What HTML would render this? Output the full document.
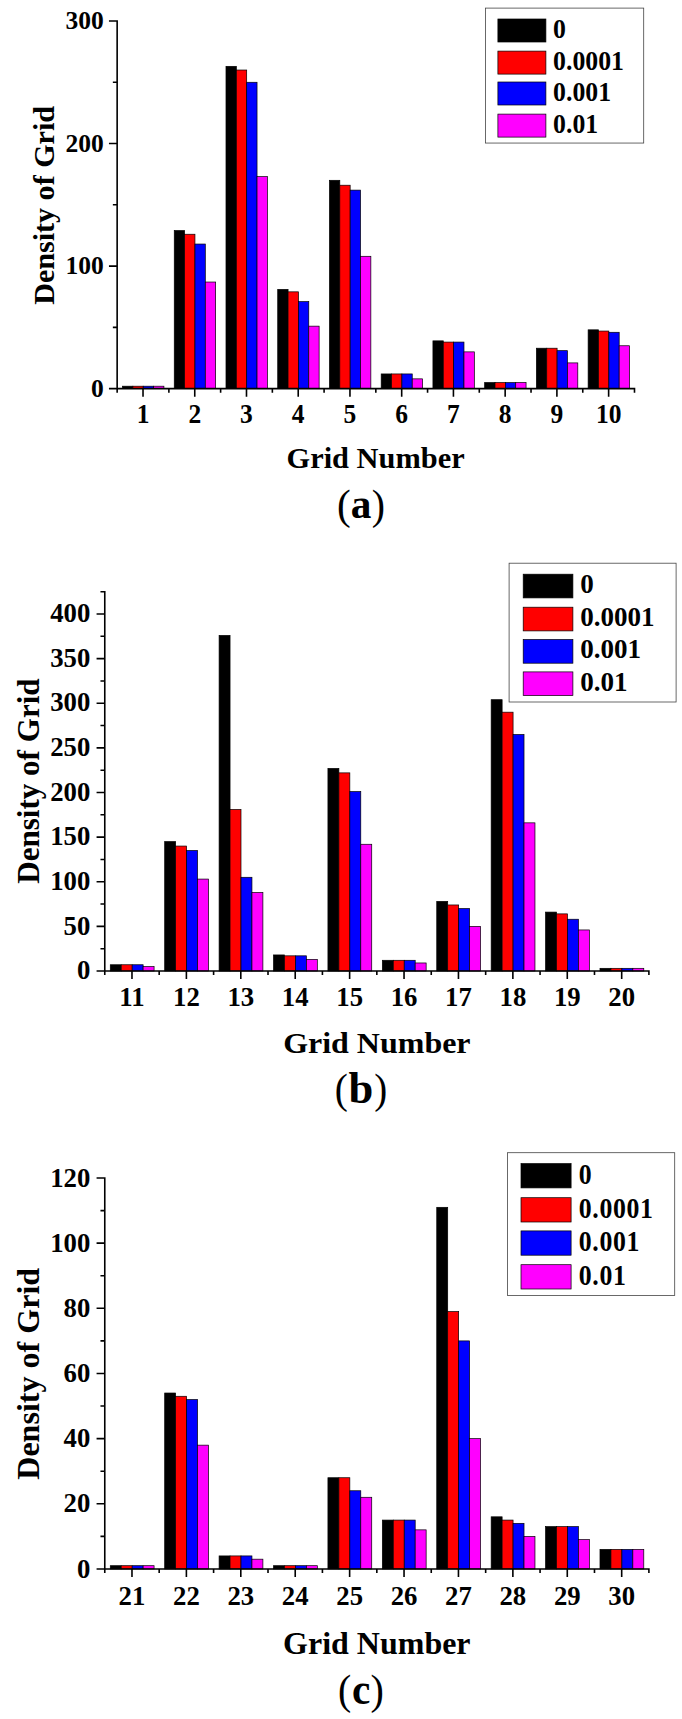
<!DOCTYPE html>
<html lang="en"><head><meta charset="utf-8"><title>Density of Grid</title>
<style>html,body{margin:0;padding:0;background:#fff}svg{display:block}text{font-family:"Liberation Serif", serif;fill:#000}.b{font-weight:bold}</style></head><body>
<svg width="682" height="1719" viewBox="0 0 682 1719">
<rect width="682" height="1719" fill="#fff"/>
<g id="chart-a">
<g stroke="#000" stroke-width="0.7">
<rect x="122.52" y="386.2" width="10.35" height="2.45" fill="#000000"/>
<rect x="132.87" y="386.2" width="10.35" height="2.45" fill="#ff0000"/>
<rect x="143.22" y="386.2" width="10.35" height="2.45" fill="#0000ff"/>
<rect x="153.57" y="386.2" width="10.35" height="2.45" fill="#ff00ff"/>
<rect x="174.25" y="230.56" width="10.35" height="158.09" fill="#000000"/>
<rect x="184.6" y="234.24" width="10.35" height="154.41" fill="#ff0000"/>
<rect x="194.95" y="244.04" width="10.35" height="144.61" fill="#0000ff"/>
<rect x="205.3" y="282.03" width="10.35" height="106.62" fill="#ff00ff"/>
<rect x="225.99" y="66.34" width="10.35" height="322.31" fill="#000000"/>
<rect x="236.34" y="70.02" width="10.35" height="318.63" fill="#ff0000"/>
<rect x="246.69" y="82.27" width="10.35" height="306.38" fill="#0000ff"/>
<rect x="257.04" y="176.64" width="10.35" height="212.01" fill="#ff00ff"/>
<rect x="277.72" y="289.38" width="10.35" height="99.27" fill="#000000"/>
<rect x="288.07" y="291.84" width="10.35" height="96.81" fill="#ff0000"/>
<rect x="298.42" y="301.64" width="10.35" height="87.01" fill="#0000ff"/>
<rect x="308.77" y="326.15" width="10.35" height="62.5" fill="#ff00ff"/>
<rect x="329.46" y="180.31" width="10.35" height="208.34" fill="#000000"/>
<rect x="339.81" y="185.22" width="10.35" height="203.43" fill="#ff0000"/>
<rect x="350.16" y="190.12" width="10.35" height="198.53" fill="#0000ff"/>
<rect x="360.51" y="256.3" width="10.35" height="132.35" fill="#ff00ff"/>
<rect x="381.19" y="373.94" width="10.35" height="14.71" fill="#000000"/>
<rect x="391.54" y="373.94" width="10.35" height="14.71" fill="#ff0000"/>
<rect x="401.89" y="373.94" width="10.35" height="14.71" fill="#0000ff"/>
<rect x="412.24" y="378.85" width="10.35" height="9.8" fill="#ff00ff"/>
<rect x="432.93" y="340.86" width="10.35" height="47.79" fill="#000000"/>
<rect x="443.28" y="342.08" width="10.35" height="46.57" fill="#ff0000"/>
<rect x="453.63" y="342.08" width="10.35" height="46.57" fill="#0000ff"/>
<rect x="463.98" y="351.88" width="10.35" height="36.77" fill="#ff00ff"/>
<rect x="484.66" y="382.52" width="10.35" height="6.13" fill="#000000"/>
<rect x="495.01" y="382.52" width="10.35" height="6.13" fill="#ff0000"/>
<rect x="505.36" y="382.52" width="10.35" height="6.13" fill="#0000ff"/>
<rect x="515.71" y="382.52" width="10.35" height="6.13" fill="#ff00ff"/>
<rect x="536.4" y="348.21" width="10.35" height="40.44" fill="#000000"/>
<rect x="546.75" y="348.21" width="10.35" height="40.44" fill="#ff0000"/>
<rect x="557.1" y="350.66" width="10.35" height="37.99" fill="#0000ff"/>
<rect x="567.45" y="362.91" width="10.35" height="25.74" fill="#ff00ff"/>
<rect x="588.13" y="329.83" width="10.35" height="58.82" fill="#000000"/>
<rect x="598.48" y="331.05" width="10.35" height="57.6" fill="#ff0000"/>
<rect x="608.83" y="332.28" width="10.35" height="56.37" fill="#0000ff"/>
<rect x="619.18" y="345.76" width="10.35" height="42.89" fill="#ff00ff"/>
</g>
<path d="M117.15 20.2 V389.45 M116.35 388.65 H635.3 M108.95 388.65 H117.15 M108.95 266.1 H117.15 M108.95 143.55 H117.15 M108.95 21 H117.15 M112.85 327.38 H117.15 M112.85 204.82 H117.15 M112.85 82.27 H117.15 M143.02 388.65 V396.65 M194.75 388.65 V396.65 M246.49 388.65 V396.65 M298.22 388.65 V396.65 M349.96 388.65 V396.65 M401.69 388.65 V396.65 M453.43 388.65 V396.65 M505.16 388.65 V396.65 M556.9 388.65 V396.65 M608.63 388.65 V396.65 M117.15 388.65 V392.75 M168.88 388.65 V392.75 M220.62 388.65 V392.75 M272.36 388.65 V392.75 M324.09 388.65 V392.75 M375.83 388.65 V392.75 M427.56 388.65 V392.75 M479.29 388.65 V392.75 M531.03 388.65 V392.75 M582.76 388.65 V392.75 M634.5 388.65 V392.75" stroke="#000" stroke-width="1.6" fill="none"/>
<text transform="translate(103.82 397) scale(1.0000 1.0000)" font-size="25.5" text-anchor="end" class="b">0</text>
<text transform="translate(103.82 274.45) scale(1.0000 1.0000)" font-size="25.5" text-anchor="end" class="b">100</text>
<text transform="translate(103.82 151.9) scale(1.0000 1.0000)" font-size="25.5" text-anchor="end" class="b">200</text>
<text transform="translate(103.82 29.35) scale(1.0000 1.0000)" font-size="25.5" text-anchor="end" class="b">300</text>
<text transform="translate(143.02 422.6) scale(1.0000 1.0350)" font-size="25.5" text-anchor="middle" class="b">1</text>
<text transform="translate(194.75 422.6) scale(1.0000 1.0350)" font-size="25.5" text-anchor="middle" class="b">2</text>
<text transform="translate(246.49 422.6) scale(1.0000 1.0350)" font-size="25.5" text-anchor="middle" class="b">3</text>
<text transform="translate(298.22 422.6) scale(1.0000 1.0350)" font-size="25.5" text-anchor="middle" class="b">4</text>
<text transform="translate(349.96 422.6) scale(1.0000 1.0350)" font-size="25.5" text-anchor="middle" class="b">5</text>
<text transform="translate(401.69 422.6) scale(1.0000 1.0350)" font-size="25.5" text-anchor="middle" class="b">6</text>
<text transform="translate(453.43 422.6) scale(1.0000 1.0350)" font-size="25.5" text-anchor="middle" class="b">7</text>
<text transform="translate(505.16 422.6) scale(1.0000 1.0350)" font-size="25.5" text-anchor="middle" class="b">8</text>
<text transform="translate(556.9 422.6) scale(1.0000 1.0350)" font-size="25.5" text-anchor="middle" class="b">9</text>
<text transform="translate(608.63 422.6) scale(1.0000 1.0350)" font-size="25.5" text-anchor="middle" class="b">10</text>
<text transform="translate(375.6 468.2) scale(1.0130 1.0000)" font-size="30" text-anchor="middle" class="b">Grid Number</text>
<text transform="translate(53.95 205.4) rotate(-90) scale(1.0030 1.0000)" font-size="30" text-anchor="middle" class="b">Density of Grid</text>
<rect x="485.5" y="8.1" width="158.2" height="134.95" fill="#fff" stroke="#444" stroke-width="0.8"/>
<rect x="497.9" y="19" width="48" height="23" fill="#000000" stroke="#000" stroke-width="0.7"/>
<text transform="translate(553.07 37.5) scale(1.0000 1.0350)" font-size="25.8" text-anchor="start" class="b">0</text>
<rect x="497.9" y="51.1" width="48" height="23" fill="#ff0000" stroke="#000" stroke-width="0.7"/>
<text transform="translate(553.07 69.6) scale(1.0000 1.0350)" font-size="25.8" text-anchor="start" class="b">0.0001</text>
<rect x="497.9" y="82" width="48" height="23" fill="#0000ff" stroke="#000" stroke-width="0.7"/>
<text transform="translate(553.07 100.5) scale(1.0000 1.0350)" font-size="25.8" text-anchor="start" class="b">0.001</text>
<rect x="497.9" y="114.1" width="48" height="23" fill="#ff00ff" stroke="#000" stroke-width="0.7"/>
<text transform="translate(553.07 132.6) scale(1.0000 1.0350)" font-size="25.8" text-anchor="start" class="b">0.01</text>
<text transform="translate(336.89 518.66) scale(0.9824 1.0057)" font-size="42">(</text>
<text transform="translate(350.87 518.08) scale(0.9835 1.0240)" font-size="42" class="b">a</text>
<text transform="translate(371.72 518.66) scale(0.9453 1.0057)" font-size="42">)</text>
</g>
<g id="chart-b">
<g stroke="#000" stroke-width="0.7">
<rect x="110.28" y="964.75" width="10.95" height="6.25" fill="#000000"/>
<rect x="121.23" y="964.75" width="10.95" height="6.25" fill="#ff0000"/>
<rect x="132.18" y="964.75" width="10.95" height="6.25" fill="#0000ff"/>
<rect x="143.13" y="966.54" width="10.95" height="4.46" fill="#ff00ff"/>
<rect x="164.69" y="841.59" width="10.95" height="129.41" fill="#000000"/>
<rect x="175.64" y="846.05" width="10.95" height="124.95" fill="#ff0000"/>
<rect x="186.59" y="850.52" width="10.95" height="120.48" fill="#0000ff"/>
<rect x="197.54" y="879.08" width="10.95" height="91.92" fill="#ff00ff"/>
<rect x="219.1" y="635.43" width="10.95" height="335.57" fill="#000000"/>
<rect x="230.05" y="809.46" width="10.95" height="161.54" fill="#ff0000"/>
<rect x="241" y="877.29" width="10.95" height="93.71" fill="#0000ff"/>
<rect x="251.95" y="892.46" width="10.95" height="78.54" fill="#ff00ff"/>
<rect x="273.52" y="954.94" width="10.95" height="16.06" fill="#000000"/>
<rect x="284.47" y="955.83" width="10.95" height="15.17" fill="#ff0000"/>
<rect x="295.42" y="955.83" width="10.95" height="15.17" fill="#0000ff"/>
<rect x="306.37" y="959.4" width="10.95" height="11.6" fill="#ff00ff"/>
<rect x="327.93" y="768.41" width="10.95" height="202.59" fill="#000000"/>
<rect x="338.88" y="772.87" width="10.95" height="198.13" fill="#ff0000"/>
<rect x="349.83" y="791.61" width="10.95" height="179.39" fill="#0000ff"/>
<rect x="360.78" y="844.27" width="10.95" height="126.73" fill="#ff00ff"/>
<rect x="382.34" y="960.29" width="10.95" height="10.71" fill="#000000"/>
<rect x="393.29" y="960.29" width="10.95" height="10.71" fill="#ff0000"/>
<rect x="404.24" y="960.29" width="10.95" height="10.71" fill="#0000ff"/>
<rect x="415.19" y="962.97" width="10.95" height="8.03" fill="#ff00ff"/>
<rect x="436.75" y="901.39" width="10.95" height="69.61" fill="#000000"/>
<rect x="447.7" y="904.96" width="10.95" height="66.04" fill="#ff0000"/>
<rect x="458.65" y="908.53" width="10.95" height="62.47" fill="#0000ff"/>
<rect x="469.6" y="926.38" width="10.95" height="44.62" fill="#ff00ff"/>
<rect x="491.17" y="699.69" width="10.95" height="271.31" fill="#000000"/>
<rect x="502.12" y="712.18" width="10.95" height="258.82" fill="#ff0000"/>
<rect x="513.07" y="734.5" width="10.95" height="236.5" fill="#0000ff"/>
<rect x="524.02" y="822.85" width="10.95" height="148.15" fill="#ff00ff"/>
<rect x="545.58" y="912.1" width="10.95" height="58.9" fill="#000000"/>
<rect x="556.53" y="913.88" width="10.95" height="57.12" fill="#ff0000"/>
<rect x="567.48" y="919.24" width="10.95" height="51.76" fill="#0000ff"/>
<rect x="578.43" y="929.95" width="10.95" height="41.05" fill="#ff00ff"/>
<rect x="599.99" y="968.32" width="10.95" height="2.68" fill="#000000"/>
<rect x="610.94" y="968.32" width="10.95" height="2.68" fill="#ff0000"/>
<rect x="621.89" y="968.32" width="10.95" height="2.68" fill="#0000ff"/>
<rect x="632.84" y="968.32" width="10.95" height="2.68" fill="#ff00ff"/>
</g>
<path d="M104.77 590.9 V971.8 M103.97 971 H649.7 M96.57 971 H104.77 M96.57 926.38 H104.77 M96.57 881.75 H104.77 M96.57 837.13 H104.77 M96.57 792.51 H104.77 M96.57 747.88 H104.77 M96.57 703.26 H104.77 M96.57 658.64 H104.77 M96.57 614.01 H104.77 M100.47 948.69 H104.77 M100.47 904.06 H104.77 M100.47 859.44 H104.77 M100.47 814.82 H104.77 M100.47 770.19 H104.77 M100.47 725.57 H104.77 M100.47 680.95 H104.77 M100.47 636.32 H104.77 M100.47 591.7 H104.77 M131.98 971 V979 M186.39 971 V979 M240.8 971 V979 M295.22 971 V979 M349.63 971 V979 M404.04 971 V979 M458.45 971 V979 M512.87 971 V979 M567.28 971 V979 M621.69 971 V979 M104.77 971 V975.1 M159.18 971 V975.1 M213.6 971 V975.1 M268.01 971 V975.1 M322.42 971 V975.1 M376.83 971 V975.1 M431.25 971 V975.1 M485.66 971 V975.1 M540.07 971 V975.1 M594.49 971 V975.1 M648.9 971 V975.1" stroke="#000" stroke-width="1.6" fill="none"/>
<text transform="translate(90.32 979.16) scale(1.0495 1.0310)" font-size="25.5" text-anchor="end" class="b">0</text>
<text transform="translate(90.32 934.54) scale(1.0495 1.0310)" font-size="25.5" text-anchor="end" class="b">50</text>
<text transform="translate(90.32 889.92) scale(1.0495 1.0310)" font-size="25.5" text-anchor="end" class="b">100</text>
<text transform="translate(90.32 845.29) scale(1.0495 1.0310)" font-size="25.5" text-anchor="end" class="b">150</text>
<text transform="translate(90.32 800.67) scale(1.0495 1.0310)" font-size="25.5" text-anchor="end" class="b">200</text>
<text transform="translate(90.32 756.05) scale(1.0495 1.0310)" font-size="25.5" text-anchor="end" class="b">250</text>
<text transform="translate(90.32 711.42) scale(1.0495 1.0310)" font-size="25.5" text-anchor="end" class="b">300</text>
<text transform="translate(90.32 666.8) scale(1.0495 1.0310)" font-size="25.5" text-anchor="end" class="b">350</text>
<text transform="translate(90.32 622.17) scale(1.0495 1.0310)" font-size="25.5" text-anchor="end" class="b">400</text>
<text transform="translate(131.98 1005.9) scale(1.0495 1.0310)" font-size="25.5" text-anchor="middle" class="b">11</text>
<text transform="translate(186.39 1005.9) scale(1.0495 1.0310)" font-size="25.5" text-anchor="middle" class="b">12</text>
<text transform="translate(240.8 1005.9) scale(1.0495 1.0310)" font-size="25.5" text-anchor="middle" class="b">13</text>
<text transform="translate(295.22 1005.9) scale(1.0495 1.0310)" font-size="25.5" text-anchor="middle" class="b">14</text>
<text transform="translate(349.63 1005.9) scale(1.0495 1.0310)" font-size="25.5" text-anchor="middle" class="b">15</text>
<text transform="translate(404.04 1005.9) scale(1.0495 1.0310)" font-size="25.5" text-anchor="middle" class="b">16</text>
<text transform="translate(458.45 1005.9) scale(1.0495 1.0310)" font-size="25.5" text-anchor="middle" class="b">17</text>
<text transform="translate(512.87 1005.9) scale(1.0495 1.0310)" font-size="25.5" text-anchor="middle" class="b">18</text>
<text transform="translate(567.28 1005.9) scale(1.0495 1.0310)" font-size="25.5" text-anchor="middle" class="b">19</text>
<text transform="translate(621.69 1005.9) scale(1.0495 1.0310)" font-size="25.5" text-anchor="middle" class="b">20</text>
<text transform="translate(376.85 1052.9) scale(1.0663 1.0052)" font-size="30" text-anchor="middle" class="b">Grid Number</text>
<text transform="translate(38.7 781.1) rotate(-90) scale(1.0362 1.0495)" font-size="30" text-anchor="middle" class="b">Density of Grid</text>
<rect x="509.1" y="563.2" width="167" height="138.8" fill="#fff" stroke="#444" stroke-width="0.8"/>
<rect x="523.2" y="574.2" width="49.7" height="23.7" fill="#000000" stroke="#000" stroke-width="0.7"/>
<text transform="translate(580.22 593.06) scale(1.0495 1.0310)" font-size="25.8" text-anchor="start" class="b">0</text>
<rect x="523.2" y="607.2" width="49.7" height="23.7" fill="#ff0000" stroke="#000" stroke-width="0.7"/>
<text transform="translate(580.22 626.06) scale(1.0495 1.0310)" font-size="25.8" text-anchor="start" class="b">0.0001</text>
<rect x="523.2" y="639.5" width="49.7" height="23.7" fill="#0000ff" stroke="#000" stroke-width="0.7"/>
<text transform="translate(580.22 658.36) scale(1.0495 1.0310)" font-size="25.8" text-anchor="start" class="b">0.001</text>
<rect x="523.2" y="671.9" width="49.7" height="23.7" fill="#ff00ff" stroke="#000" stroke-width="0.7"/>
<text transform="translate(580.22 690.76) scale(1.0495 1.0310)" font-size="25.8" text-anchor="start" class="b">0.01</text>
<text transform="translate(334.77 1102.57) scale(0.9361 1.0215)" font-size="42">(</text>
<text transform="translate(348.43 1102.96) scale(1.0605 1.0693)" font-size="42" class="b">b</text>
<text transform="translate(374.25 1102.57) scale(0.9268 1.0215)" font-size="42">)</text>
</g>
<g id="chart-c">
<g stroke="#000" stroke-width="0.7">
<rect x="110.28" y="1565.69" width="10.95" height="3.26" fill="#000000"/>
<rect x="121.23" y="1565.69" width="10.95" height="3.26" fill="#ff0000"/>
<rect x="132.18" y="1565.69" width="10.95" height="3.26" fill="#0000ff"/>
<rect x="143.13" y="1565.69" width="10.95" height="3.26" fill="#ff00ff"/>
<rect x="164.69" y="1393.02" width="10.95" height="175.93" fill="#000000"/>
<rect x="175.64" y="1396.28" width="10.95" height="172.67" fill="#ff0000"/>
<rect x="186.59" y="1399.54" width="10.95" height="169.41" fill="#0000ff"/>
<rect x="197.54" y="1445.15" width="10.95" height="123.8" fill="#ff00ff"/>
<rect x="219.1" y="1555.92" width="10.95" height="13.03" fill="#000000"/>
<rect x="230.05" y="1555.92" width="10.95" height="13.03" fill="#ff0000"/>
<rect x="241" y="1555.92" width="10.95" height="13.03" fill="#0000ff"/>
<rect x="251.95" y="1559.18" width="10.95" height="9.77" fill="#ff00ff"/>
<rect x="273.52" y="1565.69" width="10.95" height="3.26" fill="#000000"/>
<rect x="284.47" y="1565.69" width="10.95" height="3.26" fill="#ff0000"/>
<rect x="295.42" y="1565.69" width="10.95" height="3.26" fill="#0000ff"/>
<rect x="306.37" y="1565.69" width="10.95" height="3.26" fill="#ff00ff"/>
<rect x="327.93" y="1477.73" width="10.95" height="91.22" fill="#000000"/>
<rect x="338.88" y="1477.73" width="10.95" height="91.22" fill="#ff0000"/>
<rect x="349.83" y="1490.76" width="10.95" height="78.19" fill="#0000ff"/>
<rect x="360.78" y="1497.28" width="10.95" height="71.67" fill="#ff00ff"/>
<rect x="382.34" y="1520.08" width="10.95" height="48.87" fill="#000000"/>
<rect x="393.29" y="1520.08" width="10.95" height="48.87" fill="#ff0000"/>
<rect x="404.24" y="1520.08" width="10.95" height="48.87" fill="#0000ff"/>
<rect x="415.19" y="1529.86" width="10.95" height="39.1" fill="#ff00ff"/>
<rect x="436.75" y="1207.32" width="10.95" height="361.63" fill="#000000"/>
<rect x="447.7" y="1311.57" width="10.95" height="257.38" fill="#ff0000"/>
<rect x="458.65" y="1340.9" width="10.95" height="228.05" fill="#0000ff"/>
<rect x="469.6" y="1438.63" width="10.95" height="130.32" fill="#ff00ff"/>
<rect x="491.17" y="1516.82" width="10.95" height="52.13" fill="#000000"/>
<rect x="502.12" y="1520.08" width="10.95" height="48.87" fill="#ff0000"/>
<rect x="513.07" y="1523.34" width="10.95" height="45.61" fill="#0000ff"/>
<rect x="524.02" y="1536.37" width="10.95" height="32.58" fill="#ff00ff"/>
<rect x="545.58" y="1526.6" width="10.95" height="42.35" fill="#000000"/>
<rect x="556.53" y="1526.6" width="10.95" height="42.35" fill="#ff0000"/>
<rect x="567.48" y="1526.6" width="10.95" height="42.35" fill="#0000ff"/>
<rect x="578.43" y="1539.63" width="10.95" height="29.32" fill="#ff00ff"/>
<rect x="599.99" y="1549.4" width="10.95" height="19.55" fill="#000000"/>
<rect x="610.94" y="1549.4" width="10.95" height="19.55" fill="#ff0000"/>
<rect x="621.89" y="1549.4" width="10.95" height="19.55" fill="#0000ff"/>
<rect x="632.84" y="1549.4" width="10.95" height="19.55" fill="#ff00ff"/>
</g>
<path d="M104.77 1177.2 V1569.75 M103.97 1568.95 H649.7 M96.57 1568.95 H104.77 M96.57 1503.79 H104.77 M96.57 1438.63 H104.77 M96.57 1373.47 H104.77 M96.57 1308.32 H104.77 M96.57 1243.16 H104.77 M96.57 1178 H104.77 M100.47 1536.37 H104.77 M100.47 1471.21 H104.77 M100.47 1406.05 H104.77 M100.47 1340.9 H104.77 M100.47 1275.74 H104.77 M100.47 1210.58 H104.77 M131.98 1568.95 V1576.95 M186.39 1568.95 V1576.95 M240.8 1568.95 V1576.95 M295.22 1568.95 V1576.95 M349.63 1568.95 V1576.95 M404.04 1568.95 V1576.95 M458.45 1568.95 V1576.95 M512.87 1568.95 V1576.95 M567.28 1568.95 V1576.95 M621.69 1568.95 V1576.95 M104.77 1568.95 V1573.05 M159.18 1568.95 V1573.05 M213.6 1568.95 V1573.05 M268.01 1568.95 V1573.05 M322.42 1568.95 V1573.05 M376.83 1568.95 V1573.05 M431.25 1568.95 V1573.05 M485.66 1568.95 V1573.05 M540.07 1568.95 V1573.05 M594.49 1568.95 V1573.05 M648.9 1568.95 V1573.05" stroke="#000" stroke-width="1.6" fill="none"/>
<text transform="translate(90.32 1577.59) scale(1.0495 1.0637)" font-size="25.5" text-anchor="end" class="b">0</text>
<text transform="translate(90.32 1512.43) scale(1.0495 1.0637)" font-size="25.5" text-anchor="end" class="b">20</text>
<text transform="translate(90.32 1447.27) scale(1.0495 1.0637)" font-size="25.5" text-anchor="end" class="b">40</text>
<text transform="translate(90.32 1382.11) scale(1.0495 1.0637)" font-size="25.5" text-anchor="end" class="b">60</text>
<text transform="translate(90.32 1316.95) scale(1.0495 1.0637)" font-size="25.5" text-anchor="end" class="b">80</text>
<text transform="translate(90.32 1251.79) scale(1.0495 1.0637)" font-size="25.5" text-anchor="end" class="b">100</text>
<text transform="translate(90.32 1186.64) scale(1.0495 1.0637)" font-size="25.5" text-anchor="end" class="b">120</text>
<text transform="translate(131.98 1604.6) scale(1.0495 1.0637)" font-size="25.5" text-anchor="middle" class="b">21</text>
<text transform="translate(186.39 1604.6) scale(1.0495 1.0637)" font-size="25.5" text-anchor="middle" class="b">22</text>
<text transform="translate(240.8 1604.6) scale(1.0495 1.0637)" font-size="25.5" text-anchor="middle" class="b">23</text>
<text transform="translate(295.22 1604.6) scale(1.0495 1.0637)" font-size="25.5" text-anchor="middle" class="b">24</text>
<text transform="translate(349.63 1604.6) scale(1.0495 1.0637)" font-size="25.5" text-anchor="middle" class="b">25</text>
<text transform="translate(404.04 1604.6) scale(1.0495 1.0637)" font-size="25.5" text-anchor="middle" class="b">26</text>
<text transform="translate(458.45 1604.6) scale(1.0495 1.0637)" font-size="25.5" text-anchor="middle" class="b">27</text>
<text transform="translate(512.87 1604.6) scale(1.0495 1.0637)" font-size="25.5" text-anchor="middle" class="b">28</text>
<text transform="translate(567.28 1604.6) scale(1.0495 1.0637)" font-size="25.5" text-anchor="middle" class="b">29</text>
<text transform="translate(621.69 1604.6) scale(1.0495 1.0637)" font-size="25.5" text-anchor="middle" class="b">30</text>
<text transform="translate(376.85 1654) scale(1.0663 1.0371)" font-size="30" text-anchor="middle" class="b">Grid Number</text>
<text transform="translate(38.7 1373.8) rotate(-90) scale(1.0690 1.0495)" font-size="30" text-anchor="middle" class="b">Density of Grid</text>
<rect x="507.5" y="1152.7" width="167.2" height="142.7" fill="#fff" stroke="#444" stroke-width="0.8"/>
<rect x="521" y="1163.6" width="50.1" height="24.3" fill="#000000" stroke="#000" stroke-width="0.7"/>
<text transform="translate(578.82 1183.68) scale(1.0000 1.1220)" font-size="25.8" text-anchor="start" class="b" letter-spacing="0.64">0</text>
<rect x="521" y="1197.7" width="50.1" height="24.3" fill="#ff0000" stroke="#000" stroke-width="0.7"/>
<text transform="translate(578.82 1217.78) scale(1.0000 1.1220)" font-size="25.8" text-anchor="start" class="b" letter-spacing="0.64">0.0001</text>
<rect x="521" y="1230.9" width="50.1" height="24.3" fill="#0000ff" stroke="#000" stroke-width="0.7"/>
<text transform="translate(578.82 1250.98) scale(1.0000 1.1220)" font-size="25.8" text-anchor="start" class="b" letter-spacing="0.64">0.001</text>
<rect x="521" y="1264.7" width="50.1" height="24.3" fill="#ff00ff" stroke="#000" stroke-width="0.7"/>
<text transform="translate(578.82 1284.78) scale(1.0000 1.1220)" font-size="25.8" text-anchor="start" class="b" letter-spacing="0.64">0.01</text>
<text transform="translate(337.96 1703.61) scale(0.9453 1.0057)" font-size="42">(</text>
<text transform="translate(351.99 1703.69) scale(0.9841 1.0406)" font-size="42" class="b">c</text>
<text transform="translate(370.41 1703.61) scale(0.9546 1.0057)" font-size="42">)</text>
</g>
</svg></body></html>
